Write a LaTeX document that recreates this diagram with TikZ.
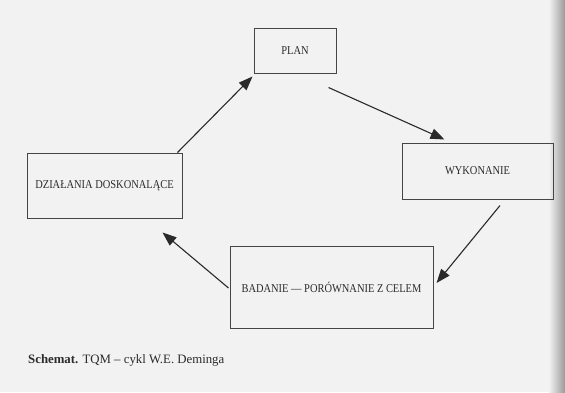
\documentclass[tikz,border=0pt]{standalone}
\usepackage{fontspec}
\setmainfont{Liberation Serif}
\newfontfamily\boxfont[FakeStretch=0.87]{Liberation Serif}
\usetikzlibrary{arrows.meta,calc}
\definecolor{paper}{HTML}{F2F2F2}
\definecolor{ink}{HTML}{2A2A2A}
\definecolor{edge}{HTML}{454545}
\tikzset{
  stepbox/.style={draw=edge, line width=1pt, inner sep=0pt, font=\boxfont\fontsize{12}{14}\selectfont, text=ink},
  flow/.style={draw=ink, line width=1.1pt, -{Triangle[length=14pt,width=10.5pt]}}
}
\begin{document}
\begin{tikzpicture}[x=1pt,y=-1pt]
\useasboundingbox (0,0) rectangle (565,392);
\fill[paper] (0,0) rectangle (565,392);
\shade[left color=paper, right color=black!40] (549,0) rectangle (565,392);
\node[stepbox, minimum width=82pt, minimum height=45pt] (plan) at (295,50.5) {PLAN};
\node[stepbox, minimum width=151pt, minimum height=56pt] (wyk) at (477.5,171) {WYKONANIE};
\node[stepbox, minimum width=155pt, minimum height=65pt] (dz) at (104.5,185.5) {DZIAŁANIA DOSKONALĄCE};
\node[stepbox, minimum width=203pt, minimum height=82pt] (bad) at (331.5,287) {BADANIE — PORÓWNANIE Z CELEM};
\draw[flow] ($(dz.north east)+(-5,0)$) -- ($(plan.south west)+(-1,3)$);
\draw[flow] ($(plan.south east)+(-8,14)$) -- ($(wyk.north west)+(43,-3)$);
\draw[flow] ($(wyk.south)+(22.5,6)$) -- ($(bad.east)+(3,-4)$);
\draw[flow] ($(bad.west)+(-1,1)$) -- ($(dz.south east)+(-20,14)$);
\node[anchor=base west, inner sep=0pt, text=ink, font=\fontsize{12.8}{14}\selectfont] (cap) at (28,363) {\textbf{Schemat.} TQM – cykl W.E. Deminga};
\end{tikzpicture}
\end{document}
